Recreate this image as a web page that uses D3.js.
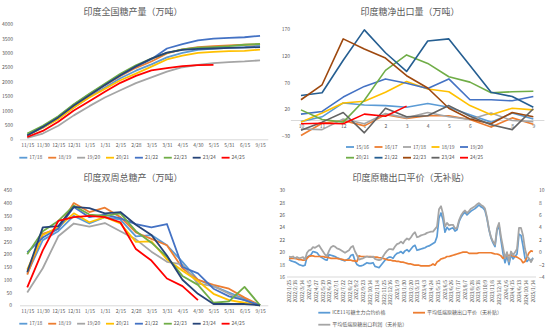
<!DOCTYPE html>
<html><head><meta charset="utf-8">
<script src="https://cdn.jsdelivr.net/npm/d3@7"></script>
<style>body{margin:0;background:#fff}svg{display:block}text{font-family:"Noto Sans CJK SC","Noto Sans",sans-serif}</style>
</head><body><svg id="c" width="550" height="333"></svg>
<script>
// ---------- Panel 1 & 3 shared ----------
const cats = ["11/15","11/30","12/15","12/31","1/15","1/31","2/15","2/28","3/15","3/31","4/15","4/30","5/15","5/31","6/15","9/15"];
const seasonsA = ["17/18","18/19","19/20","20/21","21/22","22/23","23/24","24/25"];
const colorsA = ["#5B9BD5","#ED7D31","#A5A5A5","#FFC000","#4472C4","#70AD47","#264478","#FF0000"];

// Panel 1: 印度全国糖产量（万吨）
const prodTicks = [0,500,1000,1500,2000,2500,3000,3500,4000];
const prod1718 = [150,400,720,1100,1470,1800,2120,2380,2600,2840,3000,3100,3150,3170,3200,3250];
const prod1819 = [130,420,760,1150,1530,1880,2200,2480,2700,2980,3120,3200,3230,3260,3280,3300];
const prod1920 = [50,200,470,830,1150,1450,1700,1950,2150,2350,2500,2580,2640,2680,2700,2740];
const prod2021 = [150,400,700,1100,1450,1750,2050,2280,2520,2770,2900,3000,3030,3060,3070,3110];
const prod2122 = [150,430,780,1200,1560,1900,2220,2530,2780,3150,3300,3430,3490,3520,3540,3590];
const prod2223 = [200,470,800,1220,1580,1930,2270,2570,2800,3000,3120,3180,3200,3230,3280,3310];
const prod2324 = [130,430,760,1170,1530,1880,2220,2530,2800,3010,3100,3140,3150,3170,3180,3200];
const prod2425 = [80,290,610,1000,1320,1650,1960,2200,2390,2470,2540,2570,2580];

// Panel 3: 印度双周总糖产（万吨）
const biTicks = [0,50,100,150,200,250,300,350,400,450];
const bi1718 = [125,255,290,350,320,345,335,270,275,235,170,100,75,50,25,0];
const bi1819 = [120,280,300,400,365,382,345,285,260,235,145,100,80,65,30,0];
const bi1920 = [50,145,270,320,308,322,290,258,210,170,160,85,75,45,20,0];
const bi2021 = [140,275,305,360,325,345,320,248,250,180,135,95,45,20,10,0];
const bi2122 = [207,265,300,385,345,355,340,318,305,318,150,125,65,35,20,0];
const bi2223 = [200,290,330,390,355,350,360,290,245,190,115,80,10,15,72,0];
const bi2324 = [130,305,310,385,380,360,365,315,275,195,100,45,5,5,5,0];
const bi2425 = [70,215,330,345,350,345,325,220,175,105,75,20];

// Panel 2: 印度糖净出口量（万吨）
const months = ["10","11","12","1","2","3","4","5","6","7","8","9"];
const seasonsB = ["15/16","16/17","17/18","18/19","19/20","20/21","21/22","22/23","23/24","24/25"];
const colorsB = ["#5B9BD5","#ED7D31","#A5A5A5","#FFC000","#4472C4","#70AD47","#255E91","#9E480E","#636363","#FF0000"];
const expTicks = [-30,20,70,120,170];
const exp1516 = [-3,6,32,28,27,24,31,24,10,-4,13,2];
const exp1617 = [-29,-6,-1,-11,10,3,8,8,1,-13,4,-8];
const exp1718 = [-17,-18,2,-7,12,4,14,6,1,13,-1,-3];
const exp1819 = [-4,13,32,35,52,72,58,53,27,10,22,19];
const exp1920 = [11,16,43,63,77,69,59,77,38,38,36,44];
const exp2021 = [19,1,-4,37,93,122,106,81,71,51,53,54];
const exp2122 = [46,51,112,169,126,91,148,152,102,52,44,24];
const exp2223 = [38,66,152,133,116,83,60,22,2,-7,14,6];
const exp2324 = [-19,-4,14,-24,22,6,8,27,7,-9,-18,21];
const exp2425 = [-7,-6,-7,11,7,26];

// Panel 4: 印度原糖出口平价（无补贴）
const dateLabels = ["2022/1/25","2022/2/18","2022/3/14","2022/4/5","2022/4/27","2022/5/19","2022/6/10","2022/7/1","2022/7/22","2022/8/12","2022/9/2","2022/9/23","2022/10/14","2022/11/4","2022/11/25","2022/12/16","2023/1/9","2023/1/30","2023/2/20","2023/3/13","2023/4/3","2023/4/24","2023/5/15","2023/6/5","2023/6/26","2023/7/17","2023/8/7","2023/8/28","2023/9/18","2023/10/9","2023/11/8","2023/12/14","2024/2/6","2024/4/15","2024/6/13","2024/10/14","2025/1/14"];
const priceTicksL = [16,18,20,22,24,26,28,30];
const priceTicksR = [-4,-2,0,2,4,6,8,10];
const ice11 = [18.8,18.6,18.5,18.4,18.2,18.0,17.9,17.8,17.9,19.2,
 19.4,19.6,20.1,20.0,19.9,19.5,19.2,19.0,18.8,18.7,
 19.6,19.5,19.4,19.3,19.1,19.0,18.8,18.7,18.6,18.8,
 19.0,19.5,19.6,18.6,18.0,17.8,17.8,17.9,18.1,18.3,
 18.2,18.2,18.3,17.7,17.6,17.5,17.9,18.3,18.7,19.0,
 19.2,19.2,19.0,19.5,19.8,19.9,20.1,19.8,20.2,20.4,
 20.1,20.5,20.9,21.1,20.3,20.4,20.5,20.6,20.7,20.9,
 21.0,21.2,21.4,21.6,22.5,25.5,26.3,25.2,23.2,24.0,
 23.6,23.8,23.9,23.4,23.6,24.9,25.6,26.1,26.4,26.0,
 26.3,26.6,26.8,27.0,27.3,27.6,27.3,27.1,26.7,25.4,
 23.6,22.3,21.5,20.9,23.5,24.3,21.9,19.8,18.3,19.4,
 18.0,19.6,18.9,19.3,19.7,22.9,22.7,21.0,19.0,18.5,
 18.9,18.6,19.1];
const parity = [19.0,19.0,19.0,19.0,18.9,18.8,18.8,18.7,18.7,19.0,
 19.3,19.4,19.4,19.3,19.3,19.3,19.3,19.3,19.2,19.2,
 19.1,19.0,19.0,19.0,19.0,18.9,18.9,18.8,18.7,18.7,
 18.7,18.7,18.6,18.6,18.5,19.4,19.3,19.3,19.3,19.3,
 19.3,19.3,19.2,19.2,19.2,19.1,19.1,19.0,18.9,18.8,
 18.7,18.7,18.6,18.6,18.5,18.5,18.4,18.4,18.3,18.2,
 18.1,18.1,18.0,17.9,17.9,17.9,17.8,17.8,17.8,17.8,
 17.8,17.9,18.1,17.9,18.4,18.6,18.9,19.0,19.1,19.3,
 19.3,19.4,19.5,19.6,19.7,19.8,19.9,20.0,20.0,20.0,
 19.8,19.8,19.8,19.8,19.8,19.9,19.9,19.9,19.9,19.9,
 19.9,19.9,19.8,19.7,19.7,19.6,19.4,19.0,19.3,19.4,
 19.5,19.5,19.4,19.3,19.2,19.0,18.8,18.3,18.5,19.2,
 19.9,20.2,20.1];
const profit = [-0.7,-0.8,-0.7,-1.0,-0.8,-1.0,-0.9,-0.8,-1.2,-0.1,
 0.3,0.4,0.8,0.7,0.9,1.1,0.6,0.1,-0.4,-0.6,
 0.2,0.8,1.0,0.9,0.6,0.5,0.3,0.1,-0.1,0.1,
 0.3,0.8,1.0,0.1,-0.5,-1.2,-1.1,-1.0,-0.8,-0.7,
 -0.8,-0.8,-0.7,-1.1,-1.2,-1.3,-1.2,-0.7,-0.2,0.2,
 0.5,0.5,0.4,0.9,1.3,1.4,1.7,1.4,1.9,2.2,
 2.0,2.4,2.9,3.2,2.4,2.5,2.7,2.8,2.9,3.1,
 3.2,3.3,3.3,3.7,4.1,6.9,7.4,6.2,4.1,4.7,
 4.3,4.4,4.4,3.8,3.9,5.1,5.9,6.4,6.7,6.3,
 6.6,7.0,7.2,7.4,7.7,7.9,7.6,7.4,7.0,5.6,
 3.7,2.4,1.7,1.2,3.8,4.7,2.5,0.8,-1.0,0.0,
 -1.5,0.1,-0.5,0.0,0.5,3.9,3.9,2.7,0.5,-0.7,
 -1.0,-1.6,-1.0];
const legend4 = ["ICE11号糖主力合约价格","平均低端原糖出口平价（无补贴）","平均低端原糖出口利润（无补贴）"];
const colors4 = ["#5B9BD5","#ED7D31","#A5A5A5"];

// ---------- drawing ----------
const svg = d3.select("#c");
svg.append("rect").attr("width",550).attr("height",333).attr("fill","#fff");
const TXT = "#595959", AX = "#d9d9d9";
const fmt = d3.format("d");
function styleAxis(a){ a.attr("font-size",5).attr("font-family","'Noto Sans CJK SC','Noto Sans',sans-serif"); a.selectAll("text").attr("fill",TXT); }
function title(t,x,y){ svg.append("text").attr("x",x).attr("y",y).attr("text-anchor","middle").attr("font-size",9).attr("fill",TXT).text(t); }
function legendItem(x,y,col,label,len){
  svg.append("line").attr("x1",x).attr("x2",x+len).attr("y1",y).attr("y2",y).attr("stroke",col).attr("stroke-width",1.8);
  svg.append("text").attr("x",x+len+2).attr("y",y).attr("dy","0.35em").attr("font-size",5).attr("fill",TXT).text(label);
}

function seasonPanel(top,bottom,yMax,ticks,series,labelRight,legY){
  const g = svg.append("g");
  const x = d3.scalePoint().domain(cats).range([19.5,267.8]).padding(0.5);
  const y = d3.scaleLinear().domain([0,yMax]).range([bottom,top]);
  const xa = g.append("g").attr("transform",`translate(0,${bottom})`).call(d3.axisBottom(x).tickSize(0).tickPadding(4));
  xa.select(".domain").attr("stroke",AX); styleAxis(xa);
  const ya = g.append("g").attr("transform",`translate(${labelRight+2},0)`).call(d3.axisLeft(y).tickValues(ticks).tickFormat(fmt).tickSize(0).tickPadding(2));
  ya.select(".domain").remove(); styleAxis(ya);
  const line = d3.line().x((d,i)=>x(cats[i])).y(d=>y(d));
  series.forEach((s,k)=>g.append("path").datum(s).attr("d",line).attr("fill","none")
    .attr("stroke",colorsA[k]).attr("stroke-width",1.8).attr("stroke-linejoin","round"));
  seasonsA.forEach((s,k)=>legendItem(19.3+k*28.9,legY,colorsA[k],s,8));
}

// Panel 1
title("印度全国糖产量（万吨）",133,14.8);
seasonPanel(24,139.3,4000,prodTicks,[prod1718,prod1819,prod1920,prod2021,prod2122,prod2223,prod2324,prod2425],13,157.7);

// Panel 3
title("印度双周总糖产（万吨）",133,180.8);
seasonPanel(190.3,305.3,450,biTicks,[bi1718,bi1819,bi1920,bi2021,bi2122,bi2223,bi2324,bi2425],12,323.7);

// Panel 2
title("印度糖净出口量（万吨）",410,14.8);
{
  const g = svg.append("g");
  const x = d3.scalePoint().domain(months).range([290.4,543.9]).padding(0.5);
  const y = d3.scaleLinear().domain([-30,170]).range([136,29.3]);
  const xa = g.append("g").attr("transform",`translate(0,${y(0)})`).call(d3.axisBottom(x).tickSize(0).tickPadding(4));
  xa.select(".domain").attr("stroke",AX); styleAxis(xa);
  const ya = g.append("g").attr("transform","translate(292,0)").call(d3.axisLeft(y).tickValues(expTicks).tickFormat(fmt).tickSize(0).tickPadding(2));
  ya.select(".domain").remove(); styleAxis(ya);
  const line = d3.line().x((d,i)=>x(months[i])).y(d=>y(d));
  [exp1516,exp1617,exp1718,exp1819,exp1920,exp2021,exp2122,exp2223,exp2324,exp2425].forEach((s,k)=>
    g.append("path").datum(s).attr("d",line).attr("fill","none").attr("stroke",colorsB[k]).attr("stroke-width",1.6).attr("stroke-linejoin","round"));
  seasonsB.forEach((s,k)=>legendItem(346+(k%5)*28.5,k<5?147:157.7,colorsB[k],s,8));
}

// Panel 4
title("印度原糖出口平价（无补贴）",411,180.8);
{
  const g = svg.append("g");
  const N = ice11.length;
  const x = d3.scaleLinear().domain([0,N-1]).range([289,533]);
  const xl = d3.scalePoint().domain(dateLabels).range([289,533]);
  const yL = d3.scaleLinear().domain([16,30]).range([277,190]);
  const yR = d3.scaleLinear().domain([-4,10]).range([277,190]);
  g.append("line").attr("x1",287).attr("x2",536).attr("y1",yL(16)).attr("y2",yL(16)).attr("stroke",AX).attr("stroke-width",1);
  const ya = g.append("g").attr("transform","translate(287,0)").call(d3.axisLeft(yL).tickValues(priceTicksL).tickFormat(fmt).tickSize(0).tickPadding(2));
  ya.select(".domain").remove(); styleAxis(ya);
  const yr = g.append("g").attr("transform","translate(537,0)").call(d3.axisRight(yR).tickValues(priceTicksR).tickFormat(fmt).tickSize(0).tickPadding(2));
  yr.select(".domain").remove(); styleAxis(yr);
  g.selectAll("text.dl").data(dateLabels).join("text").attr("class","dl")
    .attr("transform",d=>`translate(${xl(d)},280) rotate(-90)`).attr("text-anchor","end").attr("dy","0.35em")
    .attr("font-size",4.8).attr("fill",TXT).text(d=>d);
  const lineL = d3.line().x((d,i)=>x(i)).y(d=>yL(d));
  const lineR = d3.line().x((d,i)=>x(i)).y(d=>yR(d));
  g.append("path").datum(ice11).attr("d",lineL).attr("fill","none").attr("stroke",colors4[0]).attr("stroke-width",1.7).attr("stroke-linejoin","round");
  g.append("path").datum(parity).attr("d",lineL).attr("fill","none").attr("stroke",colors4[1]).attr("stroke-width",1.7).attr("stroke-linejoin","round");
  g.append("path").datum(profit).attr("d",lineR).attr("fill","none").attr("stroke",colors4[2]).attr("stroke-width",1.8).attr("stroke-linejoin","round");
  legendItem(318.3,312.7,colors4[0],legend4[0],12);
  legendItem(413,312.7,colors4[1],legend4[1],12);
  legendItem(318.3,324.7,colors4[2],legend4[2],12);
}
</script></body></html>
